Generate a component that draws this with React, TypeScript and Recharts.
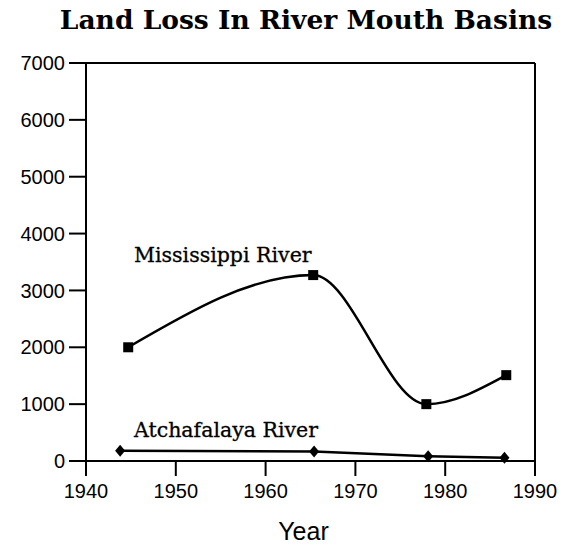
import React from "react";
import { LineChart, Line, XAxis, YAxis, ReferenceLine, Label } from "recharts";

const xTicks = [1940, 1950, 1960, 1970, 1980, 1990];
const yTicks = [0, 1000, 2000, 3000, 4000, 5000, 6000, 7000];

const mississippiYears = [1944.7, 1965.3, 1977.9, 1986.8];
const mississippiLoss = [2000, 3270, 1000, 1510];

const atchafalayaYears = [1943.8, 1965.4, 1978.1, 1986.6];
const atchafalayaLoss = [180, 165, 85, 55];

const mississippi = mississippiYears.map((year, i) => ({ year, loss: mississippiLoss[i] }));
const atchafalaya = atchafalayaYears.map((year, i) => ({ year, loss: atchafalayaLoss[i] }));

const tickStyle = { fill: "#000", fontSize: 20, fontFamily: "Liberation Sans, Arial, sans-serif" };

const SquareDot = (props: any) => {
  const { cx, cy } = props;
  if (cx == null || cy == null) return null;
  return <rect x={cx - 5} y={cy - 5} width={10} height={10} fill="#000" />;
};

const DiamondDot = (props: any) => {
  const { cx, cy } = props;
  if (cx == null || cy == null) return null;
  return <path d={`M${cx},${cy - 6} L${cx + 5},${cy} L${cx},${cy + 6} L${cx - 5},${cy} Z`} fill="#000" />;
};

const annotation: React.CSSProperties = {
  position: "absolute",
  fontFamily: "DejaVu Serif, serif",
  fontSize: 20.5,
  color: "#000",
  whiteSpace: "nowrap",
  lineHeight: 1,
  WebkitTextStroke: "0.3px #000",
};

export default function App() {
  return (
    <div style={{ position: "absolute", left: 0, top: 0, width: 565, height: 548, background: "#fff" }}>
      <div
        style={{
          position: "absolute",
          left: 0,
          top: 7,
          width: 612,
          textAlign: "center",
          fontFamily: "DejaVu Serif, serif",
          fontWeight: "bold",
          fontSize: 26.5,
          lineHeight: 1,
          color: "#000",
        }}
      >
        Land Loss In River Mouth Basins
      </div>
      <LineChart width={565} height={548} margin={{ top: 63, right: 30, bottom: 0, left: 0 }}>
        <XAxis
          type="number"
          dataKey="year"
          domain={[1940, 1990]}
          ticks={xTicks}
          interval={0}
          allowDataOverflow
          tick={tickStyle}
          tickSize={15}
          tickMargin={8}
          height={87}
          axisLine={{ stroke: "#000", strokeWidth: 2 }}
          tickLine={{ stroke: "#000", strokeWidth: 2 }}
        >
          <Label
            value="Year"
            position="insideBottom"
            offset={8}
            dx={-7}
            style={{ fill: "#000", fontSize: 25, fontFamily: "Liberation Sans, Arial, sans-serif" }}
          />
        </XAxis>
        <YAxis
          type="number"
          dataKey="loss"
          domain={[0, 7000]}
          ticks={yTicks}
          interval={0}
          width={86}
          tick={tickStyle}
          tickSize={17}
          tickMargin={4}
          axisLine={{ stroke: "#000", strokeWidth: 2 }}
          tickLine={{ stroke: "#000", strokeWidth: 2 }}
        />
        <ReferenceLine y={7000} stroke="#000" strokeWidth={2} />
        <ReferenceLine x={1990} stroke="#000" strokeWidth={2} />
        <Line
          data={mississippi}
          dataKey="loss"
          type="monotone"
          stroke="#000"
          strokeWidth={2.5}
          dot={<SquareDot />}
          activeDot={false}
          isAnimationActive={false}
        />
        <Line
          data={atchafalaya}
          dataKey="loss"
          type="linear"
          stroke="#000"
          strokeWidth={2.5}
          dot={<DiamondDot />}
          activeDot={false}
          isAnimationActive={false}
        />
      </LineChart>
      <div style={{ ...annotation, left: 134, top: 245 }}>Mississippi River</div>
      <div style={{ ...annotation, left: 134, top: 420 }}>Atchafalaya River</div>
    </div>
  );
}
